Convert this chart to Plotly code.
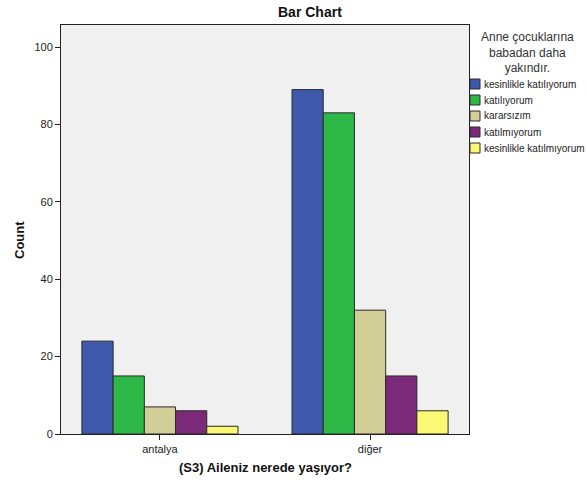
import plotly.graph_objects as go

categories = ["antalya", "diğer"]
series_names = ["kesinlikle katılıyorum", "katılıyorum", "kararsızım",
                "katılmıyorum", "kesinlikle katılmıyorum"]
values = {
    "kesinlikle katılıyorum": [24, 89],
    "katılıyorum": [15, 83],
    "kararsızım": [7, 32],
    "katılmıyorum": [6, 15],
    "kesinlikle katılmıyorum": [2, 6],
}
colors = ["#3E58AC", "#2EB848", "#D3CE97", "#7B2A7A", "#FBF873"]
y_ticks = [0, 20, 40, 60, 80, 100]

W, H = 587, 485
L, T = 61, 25
R = 587 - 469
B = 485 - 434

fig = go.Figure()
for name, c in zip(series_names, colors):
    fig.add_trace(go.Bar(
        x=categories, y=values[name], name=name,
        marker=dict(color=c, line=dict(color="#2a2a2a", width=1)),
        showlegend=False,
    ))

fig.update_layout(
    width=W, height=H,
    margin=dict(l=L, r=R, t=T, b=B, pad=0, autoexpand=False),
    paper_bgcolor="white", plot_bgcolor="#F0F0F0",
    barmode="group", bargap=0.257, bargroupgap=0,
    font=dict(family="Arial, Liberation Sans, sans-serif", size=11, color="#222"),
)
fig.update_xaxes(
    range=[-0.471, 1.471], showgrid=False, zeroline=False, automargin=False,
    showline=True, linecolor="#222", linewidth=1, mirror=True,
    ticks="outside", ticklen=5, tickcolor="#222",
    tickfont=dict(size=11, color="#222"),
)
fig.update_yaxes(
    range=[0, 105.7], tickvals=y_ticks, showgrid=False, zeroline=False, automargin=False,
    showline=True, linecolor="#222", linewidth=1, mirror=True,
    ticks="outside", ticklen=5, tickcolor="#222",
    tickfont=dict(size=11, color="#222"),
)

# positions given in screen pixels, converted to paper coords
def px(x):
    return (x - L) / (W - L - R)

def py(y):
    return (H - B - y) / (H - T - B)

fig.add_annotation(
    text="<b>Bar Chart</b>", xref="paper", yref="paper",
    x=px(310), y=py(12), showarrow=False,
    font=dict(size=14, color="#111"), xanchor="center", yanchor="middle",
)
fig.add_annotation(
    text="<b>Count</b>", xref="paper", yref="paper",
    x=px(20), y=py(240), showarrow=False, textangle=-90,
    font=dict(size=13, color="#111"), xanchor="center", yanchor="middle",
)
fig.add_annotation(
    text="<b>(S3) Aileniz nerede yaşıyor?</b>", xref="paper", yref="paper",
    x=px(265), y=py(467), showarrow=False,
    font=dict(size=13, color="#111"), xanchor="center", yanchor="middle",
)
fig.add_annotation(
    text="Anne çocuklarına<br>babadan daha<br>yakındır.", xref="paper", yref="paper",
    x=px(527), y=py(52), showarrow=False, align="center",
    font=dict(size=12, color="#333"), xanchor="center", yanchor="middle",
)
for i, (name, c) in enumerate(zip(series_names, colors)):
    yc = 84 + 16 * i
    fig.add_shape(type="rect", xref="paper", yref="paper",
                  x0=px(470), x1=px(480), y0=py(yc + 5), y1=py(yc - 5),
                  fillcolor=c, line=dict(color="#2a2a2a", width=1))
    fig.add_annotation(
        text=name, xref="paper", yref="paper",
        x=px(482), y=py(yc), showarrow=False,
        font=dict(size=10, color="#222"), xanchor="left", yanchor="middle",
    )

fig.write_html("out.html",
               config={"displayModeBar": False},
               post_script="document.body.style.margin='0px';document.body.style.padding='0px';")
